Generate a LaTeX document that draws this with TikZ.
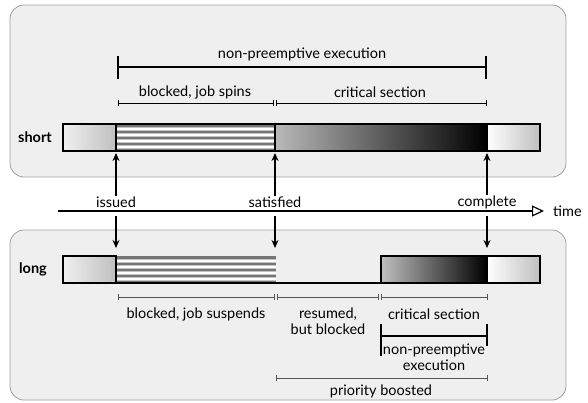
\documentclass[tikz,border=0pt]{standalone}
\usepackage{fontspec}
\setmainfont{Lato}
\usetikzlibrary{arrows.meta}
\definecolor{panelfill}{HTML}{EFEFEF}
\definecolor{paneledge}{HTML}{A0A0A0}
\definecolor{stripedark}{HTML}{767676}
\definecolor{stripemid}{HTML}{C4C4C4}
\definecolor{ivgray}{HTML}{555555}
\begin{document}
\begin{tikzpicture}[x=1pt,y=-1pt,
  panel/.style={draw=paneledge,fill=panelfill,rounded corners=14pt,line width=0.8pt},
  barline/.style={draw=black,line width=1.4pt},
  lbl/.style={inner sep=0pt,font=\fontsize{14.5}{16}\selectfont,align=center},
  rowlbl/.style={inner sep=0pt,font=\fontsize{14.5}{16}\selectfont\bfseries},
  ivtop/.style={draw=black,line width=0.7pt},
  ivbot/.style={draw=ivgray,line width=0.8pt},
  bigiv/.style={draw=black,line width=1.4pt},
  evarrow/.style={draw=black,line width=1.2pt,-{Stealth[length=8pt,width=7pt]}},
  timearrow/.style={draw=black,line width=1.2pt,-{Triangle[open,length=12pt,width=11pt,line width=1.2pt]}}
]
\useasboundingbox (0,0) rectangle (588,402);

% panels
\path[panel] (10,5) rectangle (566,177);
\path[panel] (10,230) rectangle (566,400);

% ---------- short bar ----------
\shade[left color=gray!12,right color=gray!50] (63,124) rectangle (116,151);
\fill[stripedark] (116,124) rectangle (275,151);
\foreach \yy in {128.5,134.8,141.1,147.4}{
  \draw[stripemid,line width=4pt] (116,\yy) -- (275,\yy);
  \draw[white,line width=2pt] (116,\yy) -- (275,\yy);
}
\shade[left color=gray!55,right color=black] (275,124) rectangle (487,151);
\shade[left color=white,right color=gray!50] (487,124) rectangle (540,151);
\draw[barline] (63,124) rectangle (540,151);
\draw[barline] (116,124) -- (116,151) (275,124) -- (275,151) (487,124) -- (487,151);
\node[rowlbl] (short) at (35,137) {short};

% top intervals
\node[lbl] (npe) at (302,54) {non-preemptive execution};
\draw[bigiv] (118,67) -- (486,67);
\draw[bigiv] (118,56) -- (118,79) (486,56) -- (486,79);
\node[lbl] (spin) at (195,92) {blocked, job spins};
\draw[ivtop] (118,103) -- (273,103) (118,100) -- (118,106) (273,100) -- (273,106);
\node[lbl] (cs1) at (380,92) {critical section};
\draw[ivtop] (276,103) -- (486,103) (276,100) -- (276,106) (486,100) -- (486,106);

% events and timeline
\node[lbl] (issued) at (116,202) {issued};
\node[lbl] (satisfied) at (275,202) {satisfied};
\node[lbl] (complete) at (487,202) {complete};
\coordinate (upA) at (116,153);
\coordinate (upB) at (275,153);
\coordinate (upC) at (487,153);
\draw[evarrow] (issued.north) -- (upA);
\draw[evarrow] (satisfied.north) -- (upB);
\draw[evarrow] (complete.north) -- (upC);

\coordinate (tstart) at (58,211);
\coordinate (tend) at (544,211);
\draw[timearrow] (tstart) -- (tend);
\node[lbl,anchor=west] (time) at (553,211) {time};

\coordinate (dnA0) at (116,216);
\coordinate (dnB0) at (275,216);
\coordinate (dnC0) at (487,216);
\coordinate (dnA) at (116,248);
\coordinate (dnB) at (275,248);
\coordinate (dnC) at (487,248);
\draw[evarrow] (dnA0) -- (dnA);
\draw[evarrow] (dnB0) -- (dnB);
\draw[evarrow] (dnC0) -- (dnC);

% ---------- long bar ----------
\shade[left color=gray!12,right color=gray!50] (63,256) rectangle (116,283);
\fill[stripedark] (116,256) rectangle (276,283);
\foreach \yy in {260.5,266.8,273.1,279.4}{
  \draw[stripemid,line width=4pt] (116,\yy) -- (276,\yy);
  \draw[white,line width=2pt] (116,\yy) -- (276,\yy);
}
\draw[barline] (63,256) rectangle (116,283);
\shade[left color=gray!50,right color=black] (381,256) rectangle (487,283);
\shade[left color=white,right color=gray!50] (487,256) rectangle (540,283);
\draw[barline] (381,256) rectangle (540,283);
\draw[barline] (487,256) -- (487,283);
\draw[barline] (63,283) -- (540,283);
\node[rowlbl] (long) at (33,269) {long};

% bottom intervals
\draw[ivbot] (118,297) -- (274,297) (118,294) -- (118,300) (274,294) -- (274,300);
\draw[ivbot] (277,297) -- (378,297) (277,294) -- (277,300) (378,294) -- (378,300);
\draw[ivbot] (381,297) -- (487,297) (381,294) -- (381,300) (487,294) -- (487,300);
\node[lbl] (susp) at (196,314) {blocked, job suspends};
\node[lbl] (resumed) at (328,321) {resumed,\\but blocked};
\node[lbl] (cs2) at (434,314) {critical section};

\draw[bigiv] (381,336) -- (487,336);
\draw[bigiv] (381,324) -- (381,356) (487,324) -- (487,346);
\node[lbl] (npe2) at (434,357) {non-preemptive\\execution};

\draw[ivbot] (276,378) -- (487,378) (276,375) -- (276,381) (487,375) -- (487,381);
\node[lbl] (boost) at (381,391) {priority boosted};
\end{tikzpicture}
\end{document}
